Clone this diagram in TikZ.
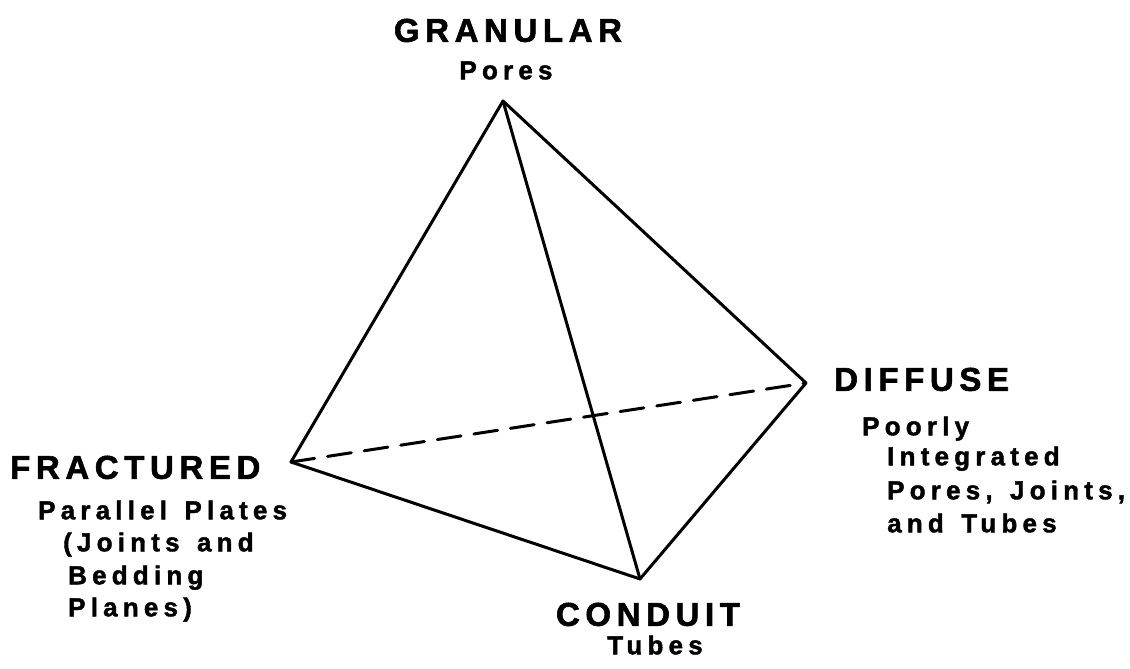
\documentclass[tikz,border=0pt]{standalone}
\usepackage{fontspec}
\setmainfont{Liberation Sans}
\newfontfamily\ttlfont[LetterSpace=17,FakeBold=1.8]{Liberation Sans Bold}
\newfontfamily\subfont[LetterSpace=20,WordSpace=1.4,FakeBold=1.6]{Liberation Sans Bold}
\begin{document}
\begin{tikzpicture}[x=1pt,y=-1pt,
  edge/.style={line width=3pt,line join=round,line cap=round},
  hidden/.style={edge,dash pattern=on 24pt off 13pt},
  ttl/.style={inner sep=0pt,font=\ttlfont\fontsize{33}{36}\selectfont,text height=23.6pt,text depth=0pt},
  sub/.style={inner sep=0pt,font=\subfont\fontsize{26}{30}\selectfont,text height=18.6pt,text depth=0pt}]
\useasboundingbox (0,0) rectangle (1130,669);
\coordinate (G) at (503,101);
\coordinate (F) at (291,462);
\coordinate (D) at (806,383);
\coordinate (C) at (640,579);
\draw[edge] (G) -- (F) -- (C) -- (D) -- cycle;
\draw[edge] (G) -- (C);
\draw[hidden] (F) -- (D);
% labels
\node[ttl] (gt) at (508,30) {GRANULAR};
\node[sub] (gs) at (506,70) {Pores};
\node[ttl,anchor=west] (ft) at (10,467) {FRACTURED};
\node[sub,anchor=west] (fs1) at (38,510) {Parallel Plates};
\node[sub,anchor=west] (fs2) at (63,542) {(Joints and};
\node[sub,anchor=west] (fs3) at (68,575) {Bedding};
\node[sub,anchor=west] (fs4) at (68,607) {Planes)};
\node[ttl,anchor=west] (dt) at (834,379) {DIFFUSE};
\node[sub,anchor=west] (ds1) at (862,426) {Poorly};
\node[sub,anchor=west] (ds2) at (887,456) {Integrated};
\node[sub,anchor=west] (ds3) at (887,490) {Pores, Joints,};
\node[sub,anchor=west] (ds4) at (887,523) {and Tubes};
\node[ttl] (ct) at (648,614) {CONDUIT};
\node[sub] (cs) at (655,645) {Tubes};
\end{tikzpicture}
\end{document}
